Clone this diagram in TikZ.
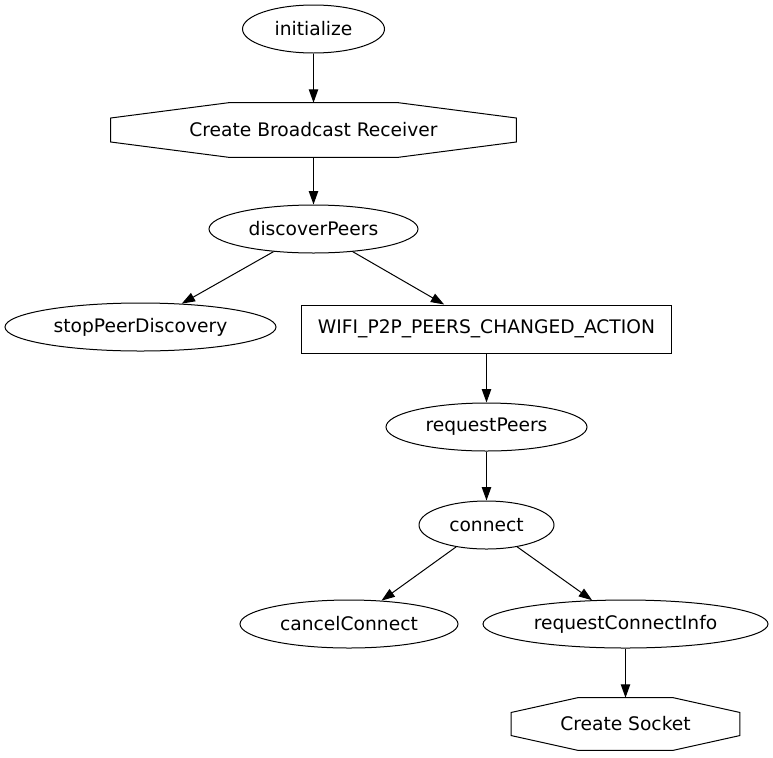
\documentclass[tikz,border=0pt]{standalone}
\usepackage{fontspec}
\setmainfont{DejaVu Sans}
\usetikzlibrary{shapes.geometric,arrows.meta,calc}
\newcommand\octaoutline[1]{\draw[line width=0.75pt] ($(#1.north west)!0.29!(#1.north east)$) -- ($(#1.north west)!0.71!(#1.north east)$) -- ($(#1.north east)!0.28!(#1.south east)$) -- ($(#1.north east)!0.72!(#1.south east)$) -- ($(#1.south west)!0.71!(#1.south east)$) -- ($(#1.south west)!0.29!(#1.south east)$) -- ($(#1.north west)!0.72!(#1.south west)$) -- ($(#1.north west)!0.28!(#1.south west)$) -- cycle;}
\tikzset{
  ell/.style={ellipse, draw, line width=0.75pt, inner sep=0pt, minimum height=36pt},
  octa/.style={rectangle, inner sep=0pt},
  boxnode/.style={rectangle, draw, line width=0.75pt, inner sep=0pt},
  edge/.style={line width=0.75pt, -{Triangle[length=10pt,width=7pt]}},
}
\begin{document}
\begin{tikzpicture}[x=0.75pt,y=-0.75pt,font=\fontsize{14}{16}\selectfont]
\useasboundingbox (0,0) rectangle (773,757);
\node[ell, minimum width=106.5pt] (init) at (313.5,29) {initialize};
\node[octa, minimum width=303.75pt, minimum height=40.5pt] (cbr) at (313.5,130) {Create Broadcast Receiver};
\octaoutline{cbr}
\node[ell, minimum width=156.75pt] (disc) at (313.5,229) {discoverPeers};
\node[ell, minimum width=203.25pt] (stop) at (140.5,327) {stopPeerDiscovery};
\node[boxnode, minimum width=277.5pt, minimum height=36pt] (wifi) at (486.5,329) {WIFI\_P2P\_PEERS\_CHANGED\_ACTION};
\node[ell, minimum width=150.75pt] (reqp) at (486.5,427) {requestPeers};
\node[ell, minimum width=101.25pt] (conn) at (486.5,525) {connect};
\node[ell, minimum width=163.5pt] (canc) at (349,624) {cancelConnect};
\node[ell, minimum width=213.75pt] (rci) at (625.5,624) {requestConnectInfo};
\node[octa, minimum width=171pt, minimum height=39pt] (sock) at (625.5,724) {Create Socket};
\octaoutline{sock}
\draw[edge] (init) -- (cbr);
\draw[edge] (cbr) -- (disc);
\draw[edge] (disc) -- (stop);
\draw[edge] (disc) -- (wifi);
\draw[edge] (wifi) -- (reqp);
\draw[edge] (reqp) -- (conn);
\draw[edge] (conn) -- (canc);
\draw[edge] (conn) -- (rci);
\draw[edge] (rci) -- (sock);
\end{tikzpicture}
\end{document}
